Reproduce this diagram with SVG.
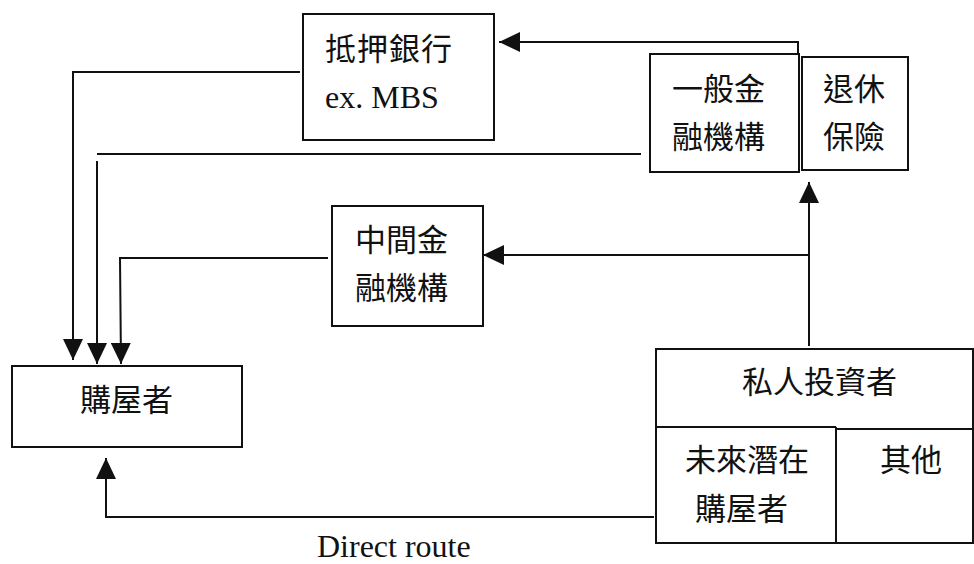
<svg xmlns="http://www.w3.org/2000/svg" width="974" height="564" viewBox="0 0 974 564">
  <style>
    .box { fill: #ffffff; stroke: #111111; stroke-width: 2; }
    .link { fill: none; stroke: #111111; stroke-width: 2; }
    .cjk { font-family: "Noto Sans CJK TC", "Noto Sans CJK SC", sans-serif; font-size: 31px; fill: #111111; }
    .latin { font-family: "Liberation Serif", "Times New Roman", serif; font-size: 32px; fill: #111111; }
  </style>
  <defs>
    <marker id="arrow" markerUnits="userSpaceOnUse" markerWidth="22" markerHeight="20" refX="21" refY="10" orient="auto">
      <path d="M0,0 L21,10 L0,20 Z" fill="#111111"/>
    </marker>
  </defs>
  <rect width="974" height="564" fill="#ffffff"/>

  <!-- connectors -->
  <g id="connectors">
    <polyline class="link" points="798,54 798,42 499,42" marker-end="url(#arrow)"/>
    <polyline class="link" points="300,72 73,72 73,360" marker-end="url(#arrow)"/>
    <line class="link" x1="641" y1="154" x2="97" y2="154"/>
    <line class="link" x1="97" y1="161" x2="97" y2="364" marker-end="url(#arrow)"/>
    <polyline class="link" points="328,258 120,258 121,364" marker-end="url(#arrow)"/>
    <line class="link" x1="809" y1="346" x2="809" y2="182" marker-end="url(#arrow)"/>
    <line class="link" x1="809" y1="255" x2="483" y2="255" marker-end="url(#arrow)"/>
    <polyline class="link" points="654,517 106,517 106,458" marker-end="url(#arrow)"/>
  </g>

  <!-- mortgage bank -->
  <g id="mortgage-bank">
    <rect class="box" x="303" y="14" width="191" height="126"/>
    <text class="cjk" x="325" y="60" letter-spacing="1">抵押銀行</text>
    <text class="latin" x="325" y="108">ex. MBS</text>
  </g>

  <!-- general financial institution -->
  <g id="general-fi">
    <rect class="box" x="650" y="54" width="149" height="118"/>
    <text class="cjk" x="672" y="100">一般金</text>
    <text class="cjk" x="672" y="148">融機構</text>
  </g>

  <!-- retirement / insurance -->
  <g id="retirement-insurance">
    <rect class="box" x="802" y="57" width="106" height="113"/>
    <text class="cjk" x="823" y="100">退休</text>
    <text class="cjk" x="823" y="148">保險</text>
  </g>

  <!-- intermediary financial institution -->
  <g id="intermediary-fi">
    <rect class="box" x="332" y="206" width="151" height="120"/>
    <text class="cjk" x="355" y="251">中間金</text>
    <text class="cjk" x="355" y="299">融機構</text>
  </g>

  <!-- home buyer -->
  <g id="home-buyer">
    <rect class="box" x="12" y="366" width="230" height="81"/>
    <text class="cjk" x="80" y="411">購屋者</text>
  </g>

  <!-- private investors -->
  <g id="private-investors">
    <rect class="box" x="656" y="349" width="317" height="194"/>
    <text class="cjk" x="742" y="393">私人投資者</text>
    <line class="link" x1="656" y1="427" x2="836" y2="427"/>
    <line class="link" x1="836" y1="429" x2="973" y2="429"/>
    <line class="link" x1="836" y1="427" x2="836" y2="543"/>
    <text class="cjk" x="685" y="471">未來潛在</text>
    <text class="cjk" x="695" y="520">購屋者</text>
    <text class="cjk" x="880" y="471">其他</text>
  </g>

  <text class="latin" x="317" y="557">Direct route</text>
</svg>
